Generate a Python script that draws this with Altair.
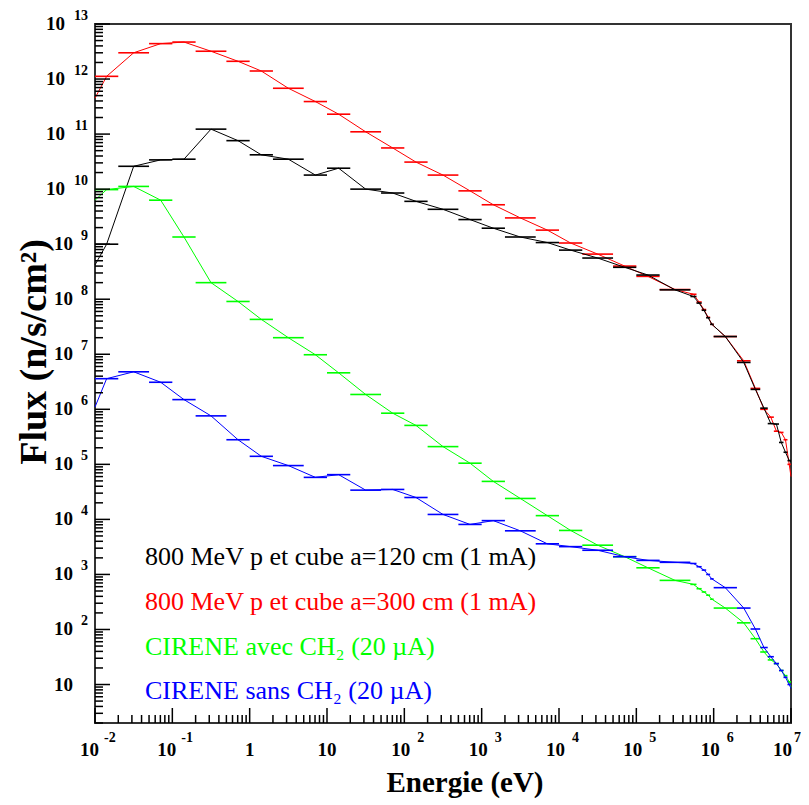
import altair as alt
import pandas as pd
import math

# ---------------- data ----------------
# energy bin edges (eV)
edges = [0.01, 0.02, 0.05, 0.1, 0.2, 0.5, 1, 2, 5, 10, 20, 50, 100, 200, 500,
         1e3, 2e3, 5e3, 1e4, 2e4, 5e4, 1e5, 2e5, 5e5, 6e5, 7e5, 8e5, 9e5,
         1e6, 2e6, 3e6, 4e6, 5e6, 6e6, 7e6, 8e6, 9e6, 1e7]

series_names = ["800 MeV p et cube a=300 cm (1 mA)",
                "800 MeV p et cube a=120 cm (1 mA)",
                "CIRENE avec CH₂ (20 µA)",
                "CIRENE sans CH₂ (20 µA)"]
series_colors = ["#ff0000", "#000000", "#00ff00", "#0000ff"]

# flux per bin (n/s/cm2)
flux_red = [1.12e12, 3.0e12, 4.4e12, 4.7e12, 3.2e12, 2.1e12, 1.4e12, 6.8e11, 3.9e11,
            2.3e11, 1.1e11, 5.6e10, 3.1e10, 1.8e10, 9.3e9, 5.2e9, 3.0e9, 1.8e9,
            1.05e9, 6.6e8, 4.0e8, 2.6e8, 1.5e8, 1.23e8, 8.9e7, 6.5e7, 4.7e7, 3.5e7,
            2.1e7, 7.6e6, 2.4e6, 1.0e6, 7.2e5, 4.0e5, 3.8e5, 2.8e5, 1.0e5]
flux_black = [1.0e9, 2.6e10, 3.4e10, 3.5e10, 1.23e11, 7.6e10, 4.2e10, 3.5e10, 1.8e10,
              2.4e10, 1.0e10, 8.5e9, 6.0e9, 4.3e9, 2.8e9, 1.95e9, 1.35e9, 1.07e9,
              7.8e8, 5.6e8, 3.8e8, 2.75e8, 1.48e8, 1.12e8, 8.5e7, 6.3e7, 4.6e7, 3.5e7,
              2.1e7, 7.1e6, 2.3e6, 1.05e6, 5.5e5, 5.4e5, 2.5e5, 1.66e5, 1.17e5]
flux_green = [9.8e9, 1.12e10, 6.3e9, 1.35e9, 2.0e8, 9.1e7, 4.3e7, 2.0e7, 9.8e6,
              4.6e6, 1.86e6, 8.5e5, 5.1e5, 2.1e5, 1.05e5, 4.9e4, 2.4e4, 1.17e4,
              6.3e3, 3.4e3, 2.1e3, 1.32e3, 780, 660, 550, 480, 420, 355,
              245, 132, 68, 39, 28, 24, 18, 14.5, 11.2]
flux_blue = [3.6e6, 4.8e6, 3.1e6, 1.5e6, 7.6e5, 2.8e5, 1.4e5, 9.5e4, 5.8e4,
             6.5e4, 3.4e4, 3.5e4, 2.5e4, 1.23e4, 8.1e3, 9.5e3, 6.2e3, 3.6e3,
             3.2e3, 2.75e3, 2.1e3, 1.8e3, 1.66e3, 1.58e3, 1.38e3, 1.2e3, 1.0e3, 830,
             575, 245, 102, 47, 32, 24, 18, 13.5, 10]
# value of each curve where it enters / leaves the frame
flux_start = [4.5e11, 4.2e8, 6.3e9, 1.1e6]
flux_end = [6.0e4, 1.1e5, 8.9, 8.5]

y_exponents = [13, 12, 11, 10, 9, 8, 7, 6, 5, 4, 3, 2, 1]
x_exponents = [-2, -1, 0, 1, 2, 3, 4, 5, 6, 7]

# ---------------- tables ----------------
all_flux = [flux_red, flux_black, flux_green, flux_blue]
bar_rows, line_rows = [], []
for name, fl, f0, f1 in zip(series_names, all_flux, flux_start, flux_end):
    line_rows.append({"series": name, "e": edges[0], "flux": f0})
    for i, f in enumerate(fl):
        lo, hi = edges[i], edges[i + 1]
        bar_rows.append({"series": name, "lo": lo, "hi": hi, "flux": f})
        line_rows.append({"series": name, "e": math.sqrt(lo * hi), "flux": f})
    line_rows.append({"series": name, "e": edges[-1], "flux": f1})
bars_df = pd.DataFrame(bar_rows)
lines_df = pd.DataFrame(line_rows)

W, H = 696, 699
xs = alt.Scale(type="log", domain=[0.01, 1e7], nice=False)
ys = alt.Scale(type="log", domain=[2, 1e13], nice=False)

layers = []
for name, col in zip(series_names, series_colors):
    b = alt.Chart(bars_df[bars_df.series == name]).mark_rule(
        color=col, strokeWidth=1.6).encode(
        x=alt.X("lo:Q", scale=xs, axis=None), x2="hi:Q",
        y=alt.Y("flux:Q", scale=ys, axis=None))
    l = alt.Chart(lines_df[lines_df.series == name]).mark_line(
        color=col, strokeWidth=1).encode(
        x=alt.X("e:Q", scale=xs, axis=None),
        y=alt.Y("flux:Q", scale=ys, axis=None),
        order="e:Q")
    layers += [b, l]

# ticks
ymaj = pd.DataFrame({"v": [10.0 ** e for e in y_exponents]})
ymin = pd.DataFrame({"v": [k * 10.0 ** e for e in range(0, 13) for k in range(2, 10)
                           if 2 <= k * 10.0 ** e < 1e13]})
xmaj = pd.DataFrame({"v": [10.0 ** e for e in x_exponents]})
xmin = pd.DataFrame({"v": [k * 10.0 ** e for e in range(-2, 7) for k in range(2, 10)]})

tick_style = dict(color="black", strokeWidth=1.5)
layers += [
    alt.Chart(ymaj).mark_rule(**tick_style).encode(
        y=alt.Y("v:Q", scale=ys, axis=None), x=alt.value(0), x2=alt.value(15)),
    alt.Chart(ymin).mark_rule(**tick_style).encode(
        y=alt.Y("v:Q", scale=ys, axis=None), x=alt.value(0), x2=alt.value(8)),
    alt.Chart(xmaj).mark_rule(**tick_style).encode(
        x=alt.X("v:Q", scale=xs, axis=None), y=alt.value(H), y2=alt.value(H - 15)),
    alt.Chart(xmin).mark_rule(**tick_style).encode(
        x=alt.X("v:Q", scale=xs, axis=None), y=alt.value(H), y2=alt.value(H - 8)),
]

# tick labels
FONT = "Liberation Serif"
base_font = dict(font=FONT, fontWeight="bold", fontSize=19, color="black")
exp_font = dict(font=FONT, fontWeight="bold", fontSize=14, color="black")

ylab = pd.DataFrame({"v": [10.0 ** e for e in y_exponents],
                     "base": ["10"] * len(y_exponents),
                     "exp": [str(e) if e != 1 else "" for e in y_exponents],
                     "nd": [len(str(e)) if e != 1 else 0 for e in y_exponents]})
for nd, xb in [(2, -30), (1, -22), (0, -22)]:
    d = ylab[ylab.nd == nd]
    layers.append(alt.Chart(d).mark_text(align="right", baseline="middle", **base_font).encode(
        y=alt.Y("v:Q", scale=ys, axis=None), x=alt.value(xb), text="base:N"))
    if nd > 0:
        layers.append(alt.Chart(d).mark_text(align="right", baseline="middle", dy=-8, **exp_font).encode(
            y=alt.Y("v:Q", scale=ys, axis=None), x=alt.value(-7), text="exp:N"))

xlab = pd.DataFrame({"v": [10.0 ** e for e in x_exponents],
                     "base": ["1" if e == 0 else "10" for e in x_exponents],
                     "exp": ["" if e in (0, 1) else str(e) for e in x_exponents],
                     "kind": ["neg" if e < 0 else ("plain" if e in (0, 1) else
                              ("edge" if e == x_exponents[-1] else "pos")) for e in x_exponents]})
for kind, bdx, edx in [("neg", 4, 9), ("pos", 6, 13), ("edge", 1, 3)]:
    d = xlab[xlab.kind == kind]
    layers.append(alt.Chart(d).mark_text(align="right", baseline="middle", dx=bdx, **base_font).encode(
        x=alt.X("v:Q", scale=xs, axis=None), y=alt.value(H + 27), text="base:N"))
    layers.append(alt.Chart(d).mark_text(align="left", baseline="middle", dx=edx, **exp_font).encode(
        x=alt.X("v:Q", scale=xs, axis=None), y=alt.value(H + 15), text="exp:N"))
d = xlab[xlab.kind == "plain"]
layers.append(alt.Chart(d).mark_text(align="center", baseline="middle", **base_font).encode(
    x=alt.X("v:Q", scale=xs, axis=None), y=alt.value(H + 27), text="base:N"))

# axis titles
layers.append(alt.Chart(pd.DataFrame({"t": ["Flux (n/s/cm²)"]})).mark_text(
    font=FONT, fontWeight="bold", fontSize=38, angle=270, align="center", baseline="middle",
    color="black").encode(x=alt.value(-60), y=alt.value(328), text="t:N"))
layers.append(alt.Chart(pd.DataFrame({"t": ["Energie (eV)"]})).mark_text(
    font=FONT, fontWeight="bold", fontSize=29, align="center", baseline="middle",
    color="black").encode(x=alt.value(370), y=alt.value(759), text="t:N"))

# legend texts (inside the frame)
legend_order = [1, 0, 2, 3]
legend_y = [533, 578, 623, 667]
for idx, yy in zip(legend_order, legend_y):
    layers.append(alt.Chart(pd.DataFrame({"t": [series_names[idx]]})).mark_text(
        font=FONT, fontSize=26, align="left", baseline="middle",
        color=series_colors[idx]).encode(x=alt.value(50), y=alt.value(yy), text="t:N"))

chart = alt.layer(*layers).properties(
    width=W, height=H,
    autosize=alt.AutoSizeParams(type="none"),
    padding={"left": 87, "top": 16, "right": 10, "bottom": 76},
).configure_view(stroke="#333333", strokeWidth=2)

chart.save("out.html", embed_options={"renderer": "svg", "actions": False})
